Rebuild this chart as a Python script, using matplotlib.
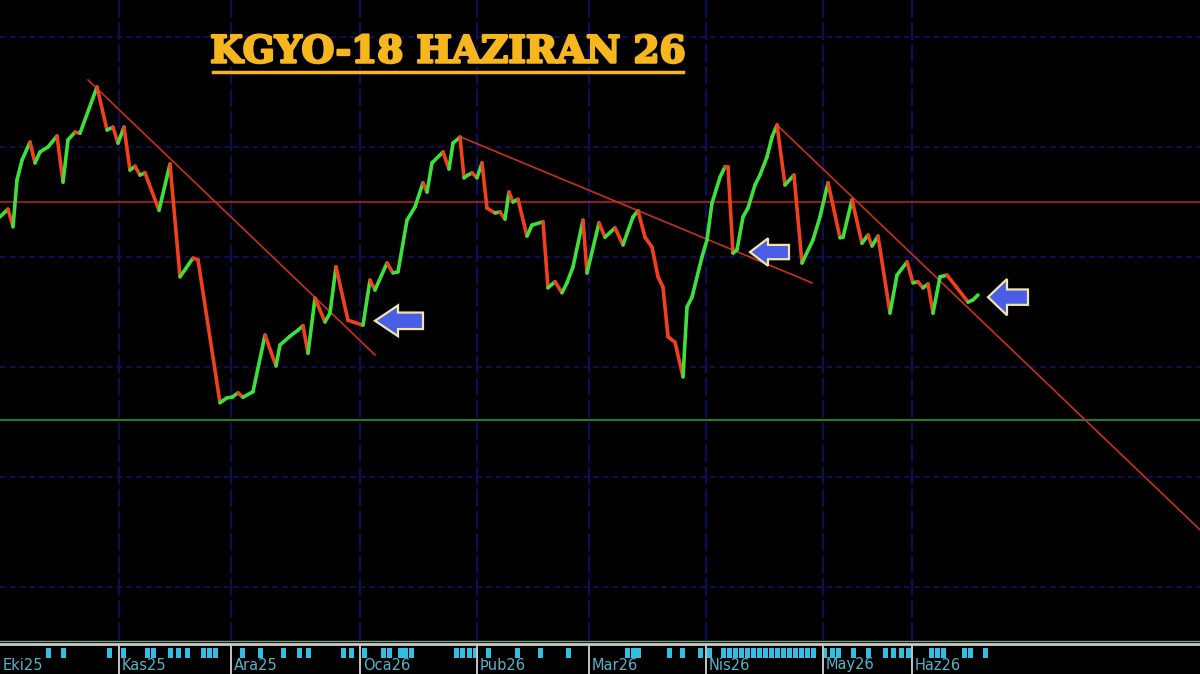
from matplotlib import pyplot as plt
from matplotlib.collections import LineCollection
from matplotlib.patches import FancyArrow, Rectangle
from matplotlib.lines import Line2D
import matplotlib.patheffects as pe
import numpy as np

plt.rcParams.update({
    'font.family': ['DejaVu Sans'],
    'figure.dpi': 100,
    'savefig.facecolor': 'black',
})

# bar index (session) and close price
bars = [0, 1.6, 2.6, 3.4, 4.4, 6, 7, 8, 9.6, 11.4, 12.6, 13.6, 15, 16, 19.4, 21.4, 22.6, 23.6,
        24.8, 26, 27, 28, 29, 31.8, 34, 36, 38.6, 39.6, 44, 45.4, 46.4, 47.6, 48.6, 50.6, 53,
        55.2, 56, 58, 59.6, 60.6, 61.6, 63, 65, 66, 67.2, 69.6, 72.6, 74, 75, 77.4, 78.6, 79.6,
        81.4, 83, 84.6, 85.4, 86.4, 88.6, 89.8, 90.6, 92, 92.8, 93.6, 94.4, 95.4, 96.4, 97.4,
        99, 100, 101, 101.8, 102.6, 103.6, 105.4, 106.4, 108.6, 109.6, 111, 112.4, 113.4,
        114.6, 116.6, 117.4, 119.8, 121, 123, 124.6, 126.6, 127.6, 129, 130.4, 131.6, 132.6,
        133.6, 135, 136.6, 137.4, 138.4, 140.4, 141.4, 142.4, 144, 145, 145.6, 146.6, 147.4,
        148.6, 149.6, 151, 152, 153.4, 154.4, 155.4, 157, 158.8, 160.4, 162.6, 164, 165.6,
        168, 168.6, 170.4, 172.4, 173.6, 174.4, 175.6, 178, 179.4, 181.4, 182.6, 183.6, 184.6,
        185.6, 186.6, 188, 189.4, 191.4, 193.6, 194.6, 195.6]
close = [18.73, 18.87, 18.55, 19.40, 19.76, 20.09, 19.71, 19.91, 20.00, 20.20, 19.36, 20.13,
         20.27, 20.25, 21.09, 20.31, 20.36, 20.07, 20.36, 19.58, 19.65, 19.49, 19.53, 18.85,
         19.69, 17.64, 17.98, 17.95, 15.35, 15.44, 15.45, 15.53, 15.45, 15.55, 16.58, 16.02,
         16.40, 16.56, 16.67, 16.75, 16.25, 17.25, 16.82, 16.98, 17.82, 16.85, 16.76, 17.58,
         17.40, 17.89, 17.71, 17.73, 18.67, 18.91, 19.35, 19.18, 19.71, 19.91, 19.60, 20.07,
         20.18, 19.44, 19.49, 19.53, 19.44, 19.71, 18.89, 18.80, 18.82, 18.69, 19.18, 19.00,
         19.05, 18.38, 18.58, 18.64, 17.44, 17.55, 17.35, 17.53, 17.82, 18.67, 17.71, 18.62,
         18.36, 18.53, 18.22, 18.73, 18.84, 18.36, 18.18, 17.64, 17.45, 16.55, 16.45, 15.82,
         17.09, 17.27, 18.00, 18.31, 18.98, 19.45, 19.64, 19.64, 18.07, 18.13, 18.73, 18.89,
         19.31, 19.49, 19.82, 20.18, 20.40, 19.31, 19.49, 17.89, 18.31, 18.73, 19.35, 18.35,
         18.36, 19.04, 18.25, 18.40, 18.20, 18.38, 16.98, 17.67, 17.91, 17.53, 17.55, 17.44,
         17.51, 16.98, 17.64, 17.67, 17.44, 17.18, 17.22, 17.31]

month_bars = [0, 23.8, 46.2, 72, 95.4, 117.8, 141.2, 164.6, 182.4]
month_labels = ['Eki25', 'Kas25', 'Ara25', 'Oca26', 'Þub26', 'Mar26', 'Nis26', 'May26', 'Haz26']

# small cyan markers on the date strip
mark_bars = [9.6, 12.6, 21.8, 24.6, 29.4, 30.6, 34, 35.6, 37.4, 40.6, 41.8, 43, 48.4, 52,
             56.6, 59.8, 61.6, 68.6, 70.2, 72.8, 76.6, 77.8, 80, 81, 82.2, 91.2, 92.4, 93.8,
             95, 97.6, 103.4, 108, 113.6, 125.4, 126.6, 127.6, 133.8, 136.4, 140, 141.8,
             144.6, 145.8, 147, 148.2, 149.4, 150.6, 151.8, 153, 154.2, 155.4, 156.6, 157.8,
             159, 160.2, 161.4, 162.6, 164.8, 166.4, 167.6, 170.6, 173.6, 177, 178.6, 180.2,
             181.6, 186.2, 187.4, 188.6, 192.8, 194, 197]

price_grid = [12, 14, 16, 18, 20, 22]
resistance = 19.0
support = 15.03

# trend lines: (bar0, price0, bar1, price1)
trends = [(17.6, 21.22, 75, 16.22),
          (92.2, 20.18, 162.4, 17.53),
          (155.4, 20.40, 240, 13.04)]

# left-pointing arrows: tip bar, tip price, length, head length, head half height, body half height
arrows = [(75, 16.84, 9.6, 4.6, 0.28, 0.15),
          (150, 18.09, 7.8, 3.6, 0.25, 0.13),
          (197.6, 17.27, 8.0, 3.8, 0.33, 0.14)]

fig = plt.figure(figsize=(12, 6.74), facecolor='black')
ax = fig.add_axes([0, 34 / 674, 1, 640 / 674])
ax.set_facecolor('black')
ax.set_xlim(0, 240)
ax.set_ylim(11.036, 22.673)
ax.axis('off')

for p in price_grid:
    ax.axhline(p, color='#0e0e52', lw=1.4, ls=(0, (3, 2)), zorder=1)
for m in month_bars[1:]:
    ax.axvline(m, color='#0e0e58', lw=1.6, ls=(0, (8, 2)), zorder=1)

ax.axhline(resistance, color='#9c2218', lw=1.3, zorder=2)
ax.axhline(support, color='#2a8a26', lw=1.3, zorder=2)

for b0, p0, b1, p1 in trends:
    ax.plot([b0, b1], [p0, p1], color='#c8301c', lw=1.2, zorder=3)

# price line, green when rising and red when falling
pts = np.column_stack([bars, close])
segs = np.stack([pts[:-1], pts[1:]], axis=1)
diff = np.diff(close)
cols = ['#3ee03a' if d > 0 else '#f0401e' for d in diff]
ax.add_collection(LineCollection(segs, colors=cols, linewidths=2.6, capstyle='round',
                                 joinstyle='round', zorder=4))

for tb, tp, ln, hl, hh, bh in arrows:
    arr = FancyArrow(tb + ln, tp, -ln, 0, width=2 * bh, head_width=2 * hh, head_length=hl,
                     length_includes_head=True, facecolor='#4a5de6', edgecolor='#f0e6a8',
                     lw=1.6, zorder=5)
    ax.add_patch(arr)

# title
fig.text(448 / 1200, 1 - 52 / 674, 'KGYO-18 HAZIRAN 26', color='#f7b51e', fontsize=27,
         fontweight='heavy', family=['DejaVu Serif'], ha='center', va='center',
         path_effects=[pe.withStroke(linewidth=1.8, foreground='#f7b51e')])
fig.add_artist(Line2D([213 / 1200, 683 / 1200], [1 - 72 / 674, 1 - 72 / 674],
                      color='#f7b51e', lw=2.5, transform=fig.transFigure))

# date strip at the bottom
sx = fig.add_axes([0, 0, 1, 34 / 674])
sx.set_facecolor('black')
sx.set_xlim(0, 240)
sx.set_ylim(34, 0)
sx.axis('off')
sx.axhline(1, color='#7f9a80', lw=1)
sx.axhline(4, color='#c8cdc8', lw=2)
for mb in mark_bars:
    sx.add_patch(Rectangle((mb - 0.5, 8), 1.0, 10, facecolor='#33bfe0', edgecolor='none'))
for mb, lab in zip(month_bars, month_labels):
    if mb > 0:
        sx.plot([mb, mb], [6, 34], color='#c4c4c4', lw=1.4)
    sx.text(mb + 0.6, 25, lab, color='#5ab2c8', fontsize=10.5, ha='left', va='center')

fig.savefig('out.png', dpi=100, facecolor='black')
